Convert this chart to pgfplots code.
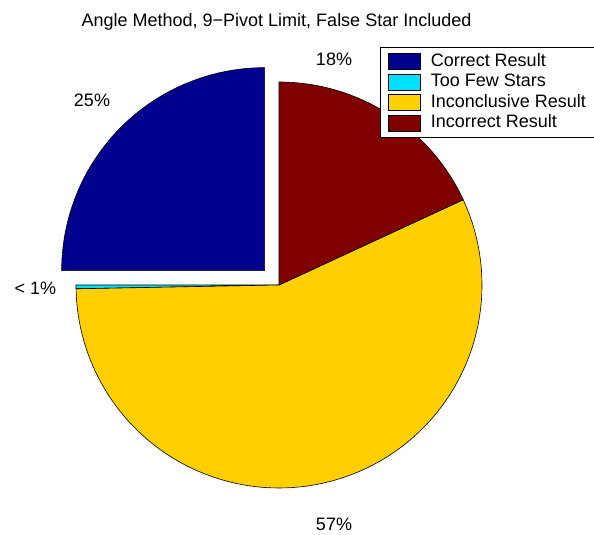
\documentclass[border=0pt]{standalone}
\usepackage{fontspec}
\setmainfont{Liberation Sans}
\usepackage{pgfplots}
\usepackage{pgfplotstable}
\pgfplotsset{compat=1.18}

\definecolor{sliceA}{RGB}{0,0,143}
\definecolor{sliceB}{RGB}{0,223,255}
\definecolor{sliceC}{RGB}{255,207,0}
\definecolor{sliceD}{RGB}{128,0,0}

% share of each outcome, in percent
\pgfplotstableread{
slice pct
Correct 25.0
TooFew 0.3
Inconclusive 56.6
Incorrect 18.1
}\piedata

\begin{document}
\begin{tikzpicture}[font=\fontsize{18bp}{21bp}\selectfont]
\pgfplotstablegetelem{0}{pct}\of\piedata\let\pA\pgfplotsretval
\pgfplotstablegetelem{1}{pct}\of\piedata\let\pB\pgfplotsretval
\pgfplotstablegetelem{2}{pct}\of\piedata\let\pC\pgfplotsretval
\pgfplotstablegetelem{3}{pct}\of\piedata\let\pD\pgfplotsretval
% slice angles, counter-clockwise from the top
\pgfmathsetmacro\aA{90}
\pgfmathsetmacro\aB{\aA+3.6*\pA}
\pgfmathsetmacro\aC{\aB+3.6*\pB}
\pgfmathsetmacro\aD{\aC+3.6*\pC}
\pgfmathsetmacro\aE{\aD+3.6*\pD}
% centre, radius, exploded first slice
\def\cx{279}\def\cy{250}\def\rr{203}
\pgfmathsetmacro\mA{(\aA+\aB)/2}
\pgfmathsetmacro\ex{\cx+0.1*\rr*cos(\mA)}
\pgfmathsetmacro\ey{\cy+0.1*\rr*sin(\mA)}
\begin{axis}[
  scale only axis, width=594bp, height=535bp,
  xmin=0, xmax=594, ymin=0, ymax=535,
  hide axis, clip=false,
  legend cell align=left,
  legend style={at={(axis cs:380,488)}, anchor=north west,
    draw=black, line width=0.5pt, fill=white,
    inner xsep=8bp, inner ysep=6bp, row sep=4bp, column sep=10bp,
    nodes={inner sep=0pt, text height=13bp, text depth=3bp},
    font=\fontsize{18bp}{21bp}\selectfont},
  legend image code/.code={\draw[#1,line width=0.5pt] (0bp,-8bp) rectangle (32bp,8bp);},
]
\addplot[fill=sliceA, draw=black, line width=0.6pt, domain=\aA:\aB, samples=60, variable=\t]
  ({\ex+\rr*cos(\t)}, {\ey+\rr*sin(\t)}) -- (axis cs:\ex,\ey) -- cycle;
\addlegendentry{Correct Result}
\addplot[fill=sliceB, draw=black, line width=0.6pt, domain=\aB:\aC, samples=5, variable=\t]
  ({\cx+\rr*cos(\t)}, {\cy+\rr*sin(\t)}) -- (axis cs:\cx,\cy) -- cycle;
\addlegendentry{Too Few Stars}
\addplot[fill=sliceC, draw=black, line width=0.6pt, domain=\aC:\aD, samples=120, variable=\t]
  ({\cx+\rr*cos(\t)}, {\cy+\rr*sin(\t)}) -- (axis cs:\cx,\cy) -- cycle;
\addlegendentry{Inconclusive Result}
\addplot[fill=sliceD, draw=black, line width=0.6pt, domain=\aD:\aE, samples=50, variable=\t]
  ({\cx+\rr*cos(\t)}, {\cy+\rr*sin(\t)}) -- (axis cs:\cx,\cy) -- cycle;
\addlegendentry{Incorrect Result}

\node[anchor=base] at (axis cs:92,428) {25\%};
\node[anchor=base] at (axis cs:35.5,240) {< 1\%};
\node[anchor=base] at (axis cs:334,5) {57\%};
\node[anchor=base] at (axis cs:334,469) {18\%};
\node[anchor=base] at (axis cs:276.5,508) {Angle Method, 9−Pivot Limit, False Star Included};
\coordinate (bl) at (rel axis cs:0,0);
\coordinate (tr) at (rel axis cs:1,1);
\end{axis}
\pgfresetboundingbox
\useasboundingbox (bl) rectangle (tr);
\end{tikzpicture}
\end{document}
